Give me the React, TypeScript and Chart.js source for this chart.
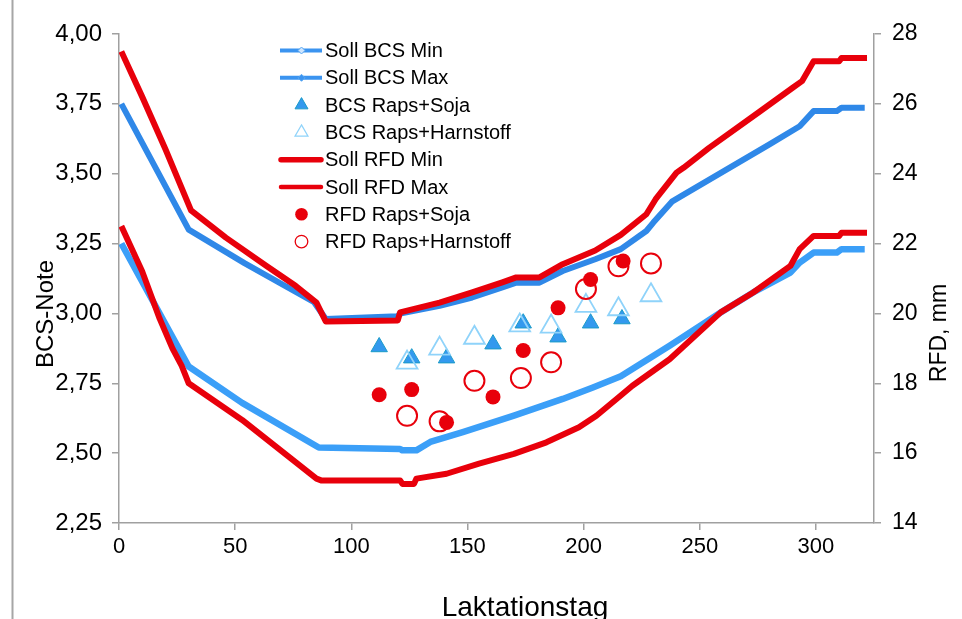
import React, { useEffect, useRef } from "react";
import { Chart, registerables } from "chart.js";

Chart.register(...registerables);

// ---- Data ----
const bcsMinDays = [1, 30, 53, 86, 121, 122, 128, 134, 148, 170, 191, 204, 216, 237, 259, 273, 289, 293, 299, 309, 311, 321];
const bcsMinValues = [3.25, 2.81, 2.68, 2.52, 2.515, 2.51, 2.51, 2.54, 2.575, 2.634, 2.694, 2.735, 2.775, 2.884, 3.003, 3.075, 3.146, 3.182, 3.218, 3.218, 3.23, 3.23];

const bcsMaxDays = [1, 30, 54, 84, 89, 120, 121, 138, 152, 165, 171, 181, 191, 205, 216, 227, 230, 238, 242, 280, 293, 299, 309, 311, 321];
const bcsMaxValues = [3.75, 3.3, 3.18, 3.04, 2.98, 2.99, 3.0, 3.027, 3.057, 3.093, 3.11, 3.11, 3.152, 3.194, 3.23, 3.295, 3.325, 3.4, 3.42, 3.605, 3.67, 3.724, 3.724, 3.736, 3.736];

const rfdMinDays = [1, 10, 17.5, 23, 27, 30, 53, 85, 87, 121, 122, 127, 128, 141, 155, 170, 184, 198, 205.5, 216, 221, 237, 259, 273, 289, 293, 299, 310, 311, 322];
const rfdMinValues = [22.5, 21.2, 19.85, 19.0, 18.5, 18.0, 16.95, 15.27, 15.22, 15.22, 15.12, 15.12, 15.27, 15.41, 15.7, 15.98, 16.31, 16.74, 17.07, 17.65, 17.93, 18.69, 20.03, 20.6, 21.36, 21.84, 22.22, 22.22, 22.31, 22.31];

const rfdMaxDays = [1, 10, 20, 31, 46, 63.5, 76, 85, 89, 120, 121, 138, 152, 165, 171, 181, 191, 205, 216, 227, 231, 240, 243, 254, 276, 290, 294, 299, 310, 311, 322];
const rfdMaxValues = [27.5, 26.2, 24.7, 22.95, 22.17, 21.36, 20.79, 20.31, 19.77, 19.8, 20.03, 20.31, 20.6, 20.89, 21.03, 21.03, 21.41, 21.8, 22.25, 22.84, 23.27, 24.03, 24.17, 24.74, 25.79, 26.46, 26.65, 27.22, 27.22, 27.31, 27.31];

const bcsSojaDays = [112, 126, 141, 161, 174, 189, 203, 216.5];
const bcsSojaValues = [2.88, 2.84, 2.84, 2.89, 2.965, 2.915, 2.965, 2.98];

const bcsHarnDays = [124, 138, 153, 172.5, 186, 201, 215, 229];
const bcsHarnValues = [2.824, 2.874, 2.913, 2.957, 2.953, 3.027, 3.015, 3.065];

const rfdSojaDays = [112, 126, 141, 161, 174, 189, 203, 217];
const rfdSojaValues = [17.67, 17.82, 16.88, 17.61, 18.94, 20.16, 20.97, 21.5];

const rfdHarnDays = [124, 138, 153, 173, 186, 201, 215, 229];
const rfdHarnValues = [17.07, 16.91, 18.07, 18.15, 18.6, 20.7, 21.35, 21.43];

const seriesNames = [
  "Soll BCS Min",
  "Soll BCS Max",
  "BCS Raps+Soja",
  "BCS Raps+Harnstoff",
  "Soll RFD Min",
  "Soll RFD Max",
  "RFD Raps+Soja",
  "RFD Raps+Harnstoff",
];

const xTitle = "Laktationstag";
const yLeftTitle = "BCS-Note";
const yRightTitle = "RFD, mm";

// ---- Styles ----
const BLUE_UP = "#2f88e8";
const BLUE_LO = "#3b9ff8";
const RED = "#e8000b";
const TRI_FILL = "#3399ee";
const TRI_EDGE = "#1b9bc8";
const TRI_OPEN = "#8fd3fa";
const AXIS = "#a0a0a0";
const FONT = '"Liberation Sans", Arial, sans-serif';

function pts(days: number[], vals: number[]) {
  return days.map((d, i) => ({ x: d, y: vals[i] }));
}

const decorPlugin = {
  id: "decor",
  afterDraw(chart: any) {
    const ctx: CanvasRenderingContext2D = chart.ctx;
    ctx.save();
    // outer frame line on the left
    ctx.strokeStyle = "#a6a6a6";
    ctx.lineWidth = 2;
    ctx.beginPath();
    ctx.moveTo(12.5, 0);
    ctx.lineTo(12.5, 619);
    ctx.stroke();

    // axis titles
    ctx.fillStyle = "#000";
    ctx.textAlign = "center";
    ctx.textBaseline = "alphabetic";
    ctx.font = `28px ${FONT}`;
    ctx.fillText(xTitle, 525, 616);
    ctx.textBaseline = "middle";
    ctx.font = `24px ${FONT}`;
    ctx.save();
    ctx.translate(46, 314);
    ctx.rotate(-Math.PI / 2);
    ctx.fillText(yLeftTitle, 0, 0);
    ctx.restore();
    ctx.font = `23px ${FONT}`;
    ctx.save();
    ctx.translate(940, 333);
    ctx.rotate(-Math.PI / 2);
    ctx.fillText(yRightTitle, 0, 0);
    ctx.restore();

    // legend
    const x0 = 280, x1 = 322, mx = 301.5, tx = 325;
    ctx.textAlign = "left";
    ctx.font = `20px ${FONT}`;
    seriesNames.forEach((name, i) => {
      const y = 50.5 + i * 27.3;
      ctx.save();
      if (i === 0 || i === 1) {
        ctx.strokeStyle = "#3b94f0";
        ctx.lineWidth = 4;
        ctx.beginPath();
        ctx.moveTo(x0, y);
        ctx.lineTo(x1, y);
        ctx.stroke();
        ctx.beginPath();
        ctx.moveTo(mx, y - 3.5);
        ctx.lineTo(mx + 3.5, y);
        ctx.lineTo(mx, y + 3.5);
        ctx.lineTo(mx - 3.5, y);
        ctx.closePath();
        ctx.fillStyle = i === 0 ? "#cfe6ff" : "#3b94f0";
        ctx.fill();
        ctx.lineWidth = 1;
        ctx.strokeStyle = "#5aa8f2";
        ctx.stroke();
      } else if (i === 2 || i === 3) {
        const r = 7.5;
        ctx.beginPath();
        ctx.moveTo(mx, y - r);
        ctx.lineTo(mx + r * 0.866, y + r / 2);
        ctx.lineTo(mx - r * 0.866, y + r / 2);
        ctx.closePath();
        if (i === 2) {
          ctx.fillStyle = TRI_FILL;
          ctx.fill();
          ctx.strokeStyle = TRI_EDGE;
          ctx.lineWidth = 1;
          ctx.stroke();
        } else {
          ctx.strokeStyle = TRI_OPEN;
          ctx.lineWidth = 1.2;
          ctx.stroke();
        }
      } else if (i === 4 || i === 5) {
        ctx.strokeStyle = RED;
        ctx.lineWidth = i === 4 ? 5.5 : 4.5;
        ctx.lineCap = "round";
        ctx.beginPath();
        ctx.moveTo(x0 + 1, y);
        ctx.lineTo(x1 - 1, y);
        ctx.stroke();
      } else {
        ctx.beginPath();
        ctx.arc(mx, y, 6.3, 0, Math.PI * 2);
        if (i === 6) {
          ctx.fillStyle = RED;
          ctx.fill();
        } else {
          ctx.strokeStyle = RED;
          ctx.lineWidth = 1.3;
          ctx.stroke();
        }
      }
      ctx.restore();
      ctx.fillStyle = "#000";
      ctx.fillText(name, tx, y + 1);
    });
    ctx.restore();
  },
};

export default function App() {
  const ref = useRef<HTMLCanvasElement>(null);

  useEffect(() => {
    const lineDs = (label: string, data: any[], color: string, width: number, axis: string, order: number) => ({
      label,
      data,
      showLine: true,
      borderColor: color,
      backgroundColor: color,
      borderWidth: width,
      pointRadius: 0,
      pointHoverRadius: 0,
      yAxisID: axis,
      order,
      borderJoinStyle: "round" as const,
    });

    const chart = new Chart(ref.current as HTMLCanvasElement, {
      type: "scatter",
      data: {
        datasets: [
          lineDs(seriesNames[0], pts(bcsMinDays, bcsMinValues), BLUE_LO, 6.5, "y", 8),
          lineDs(seriesNames[1], pts(bcsMaxDays, bcsMaxValues), BLUE_UP, 6, "y", 7),
          {
            label: seriesNames[2],
            data: pts(bcsSojaDays, bcsSojaValues),
            pointStyle: "triangle",
            pointRadius: 9.5,
            backgroundColor: TRI_FILL,
            borderColor: TRI_EDGE,
            borderWidth: 1,
            yAxisID: "y",
            order: 6,
          },
          {
            label: seriesNames[3],
            data: pts(bcsHarnDays, bcsHarnValues),
            pointStyle: "triangle",
            pointRadius: 12,
            backgroundColor: "rgba(0,0,0,0)",
            borderColor: TRI_OPEN,
            borderWidth: 1.8,
            yAxisID: "y",
            order: 5,
          },
          lineDs(seriesNames[4], pts(rfdMinDays, rfdMinValues), RED, 6, "y1", 4),
          lineDs(seriesNames[5], pts(rfdMaxDays, rfdMaxValues), RED, 6, "y1", 3),
          {
            label: seriesNames[6],
            data: pts(rfdSojaDays, rfdSojaValues),
            pointStyle: "circle",
            pointRadius: 7.5,
            backgroundColor: RED,
            borderColor: RED,
            borderWidth: 0,
            yAxisID: "y1",
            order: 2,
          },
          {
            label: seriesNames[7],
            data: pts(rfdHarnDays, rfdHarnValues),
            pointStyle: "circle",
            pointRadius: 10,
            backgroundColor: "rgba(0,0,0,0)",
            borderColor: RED,
            borderWidth: 2,
            yAxisID: "y1",
            order: 1,
          },
        ],
      },
      options: {
        responsive: false,
        animation: false,
        events: [],
        layout: { padding: { top: 34, left: 0, right: 0, bottom: 0 } },
        plugins: {
          legend: { display: false },
          tooltip: { enabled: false },
          title: { display: false },
        },
        scales: {
          x: {
            type: "linear",
            position: "bottom",
            min: 0,
            max: 325,
            ticks: {
              stepSize: 50,
              includeBounds: false,
              color: "#000",
              font: { size: 22, family: FONT },
              padding: 4,
              maxRotation: 0,
            },
            grid: { drawOnChartArea: false, color: AXIS, tickLength: 7, lineWidth: 1.5 },
            border: { color: AXIS, width: 1.5 },
            afterFit: (s: any) => {
              s.height = 96;
            },
          },
          y: {
            type: "linear",
            position: "left",
            min: 2.25,
            max: 4,
            ticks: {
              stepSize: 0.25,
              color: "#000",
              font: { size: 24, family: FONT },
              padding: 10,
              callback: (v: any) => Number(v).toFixed(2).replace(".", ","),
            },
            grid: { drawOnChartArea: false, color: AXIS, tickLength: 7, lineWidth: 1.5 },
            border: { color: AXIS, width: 1.5 },
            afterFit: (s: any) => {
              s.width = 119;
            },
          },
          y1: {
            type: "linear",
            position: "right",
            min: 14,
            max: 28,
            ticks: {
              stepSize: 2,
              color: "#000",
              font: { size: 23, family: FONT },
              padding: 11,
            },
            grid: { drawOnChartArea: false, color: AXIS, tickLength: 7, lineWidth: 1.5 },
            border: { color: AXIS, width: 1.5 },
            afterFit: (s: any) => {
              s.width = 88;
            },
          },
        },
      },
      plugins: [decorPlugin],
    });
    return () => chart.destroy();
  }, []);

  return (
    <div style={{ position: "fixed", left: 0, top: 0, width: 962, height: 619, background: "#fff" }}>
      <canvas ref={ref} width={962} height={619} style={{ width: 962, height: 619, display: "block" }} />
    </div>
  );
}
